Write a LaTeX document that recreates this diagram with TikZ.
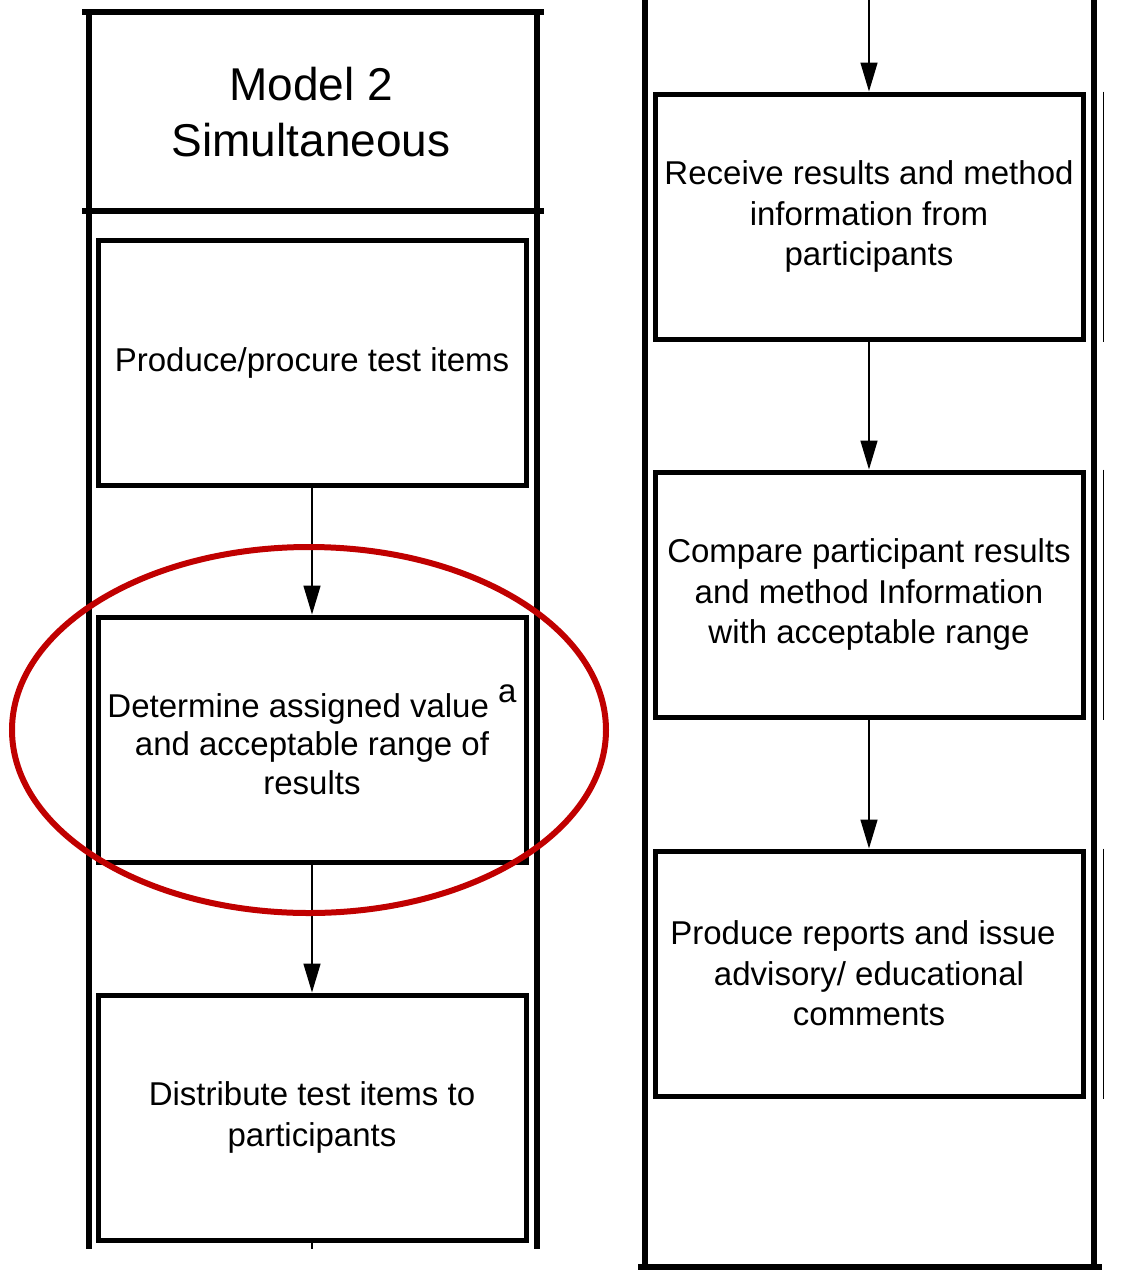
\documentclass[tikz,border=0pt]{standalone}
\usepackage{fontspec}
\setmainfont{Liberation Sans}
\usetikzlibrary{arrows.meta}
\definecolor{ovalred}{HTML}{C00000}
\begin{document}
\begin{tikzpicture}[x=1pt,y=-1pt,
  stepbox/.style={draw, line width=5pt, minimum width=428pt, minimum height=245pt,
    inner sep=2pt, align=center, font=\fontsize{33}{40.5}\selectfont},
  lane/.style={line width=6pt},
  arr/.style={line width=1.5pt, -{Triangle[length=29pt,width=17pt]}},
  tick/.style={line width=1.5pt},
  oval/.style={draw=ovalred, line width=6pt}]
\useasboundingbox (0,0) rectangle (1122,1270);
% left lane
\draw[lane] (82,12) -- (544,12);
\draw[lane] (82,211) -- (544,211);
\draw[lane] (89,12) -- (89,1249);
\draw[lane] (537,12) -- (537,1249);
\node[align=center, font=\fontsize{46}{56}\selectfont] (title) at (311,112) {Model 2\\Simultaneous};
\node[stepbox] (l1) at (312,362.5) {Produce/procure test items};
\node[stepbox, font=\fontsize{33}{38.5}\selectfont] (l2) at (312,739.5) {Determine assigned value \raisebox{0.45em}{a}\\and acceptable range of\\results};
\node[stepbox] (l3) at (312,1117.5) {Distribute test items to\\participants};
\draw[arr] (l1) -- (l2);
\draw[arr] (l2) -- (l3);
\coordinate (lend) at (312,1249);
\draw[tick] (l3.south) -- (lend);
% right lane
\draw[lane] (645,0) -- (645,1268);
\draw[lane] (1094,0) -- (1094,1268);
\draw[lane] (638,1267) -- (1102,1267);
\node[stepbox] (r1) at (869,216.5) {Receive results and method\\information from\\participants};
\node[stepbox] (r2) at (869,594.5) {Compare participant results\\and method Information\\with acceptable range};
\node[stepbox] (r3) at (869,973.5) {\hspace*{-12pt}Produce reports and issue\\advisory/ educational\\comments};
\coordinate (rtop) at (869,0);
\draw[arr] (rtop) -- (r1);
\draw[arr] (r1) -- (r2);
\draw[arr] (r2) -- (r3);
\foreach \b in {r1,r2,r3}
  \draw[tick] ([xshift=18pt]\b.north east) -- ([xshift=18pt]\b.south east);
% highlight
\draw[oval] (309,730) ellipse [x radius=297pt, y radius=183pt];
\end{tikzpicture}
\end{document}
